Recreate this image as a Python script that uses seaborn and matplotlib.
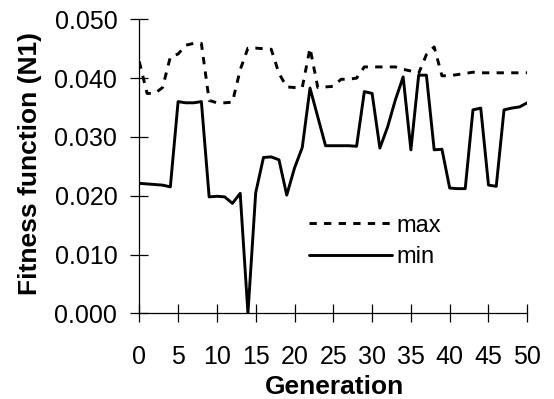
import numpy as np
import pandas as pd
import matplotlib
matplotlib.use("Agg")
import matplotlib.pyplot as plt
import seaborn as sns
from matplotlib.lines import Line2D

generation = list(range(51))
max_vals = [0.0428, 0.0374, 0.0374, 0.0384, 0.0436, 0.0441, 0.0456, 0.0459, 0.0459, 0.0362,
            0.0358, 0.0358, 0.0359, 0.0414, 0.0451, 0.0451, 0.0450, 0.0449, 0.0408, 0.0385,
            0.0384, 0.0384, 0.0451, 0.0384, 0.0385, 0.0386, 0.0398, 0.0398, 0.0400, 0.0419,
            0.0419, 0.0419, 0.0419, 0.0419, 0.0415, 0.0412, 0.0408, 0.0440, 0.0453, 0.0404,
            0.0404, 0.0406, 0.0408, 0.0410, 0.0409, 0.0409, 0.0409, 0.0409, 0.0409, 0.0409,
            0.0409]
min_vals = [0.0221, 0.0220, 0.0219, 0.0218, 0.0215, 0.0360, 0.0358, 0.0358, 0.0360, 0.0198,
            0.0199, 0.0198, 0.0187, 0.0204, 0.0000, 0.0205, 0.0265, 0.0266, 0.0261, 0.0201,
            0.0247, 0.0282, 0.0383, 0.0334, 0.0285, 0.0285, 0.0285, 0.0285, 0.0284, 0.0377,
            0.0374, 0.0281, 0.0317, 0.0363, 0.0402, 0.0278, 0.0405, 0.0405, 0.0278, 0.0279,
            0.0213, 0.0212, 0.0212, 0.0346, 0.0349, 0.0218, 0.0216, 0.0346, 0.0349, 0.0351,
            0.0358]
series_names = ["max", "min"]
x_ticks = list(range(0, 51, 5))
y_ticks = [0.0, 0.01, 0.02, 0.03, 0.04, 0.05]
x_label = "Generation"
y_label = "Fitness function (N1)"

df = pd.DataFrame({
    "Generation": generation * 2,
    "value": max_vals + min_vals,
    "series": [series_names[0]] * len(generation) + [series_names[1]] * len(generation),
})

sns.set_style("white")
plt.rcParams["font.family"] = ["Liberation Sans", "DejaVu Sans"]
plt.rcParams["text.color"] = "black"

W, H = 554, 399
fig = plt.figure(figsize=(W / 100, H / 100), dpi=100)
ax = fig.add_axes([139.3 / W, 1 - 313.3 / H, 388 / W, 294 / H])

sns.lineplot(data=df, x="Generation", y="value", hue="series", style="series",
             palette={"max": "black", "min": "black"},
             dashes={"max": (2.5, 2.5), "min": ""},
             linewidth=2.1, ax=ax, legend=False)

ax.set_xlim(0, 50)
ax.set_ylim(0, 0.05)
ax.set_xticks(x_ticks)
ax.set_yticks(y_ticks)
ax.set_yticklabels([f"{v:.3f}" for v in y_ticks])
ax.set_xticklabels([str(v) for v in x_ticks])
for s in ["top", "right"]:
    ax.spines[s].set_visible(False)
for s in ["left", "bottom"]:
    ax.spines[s].set_color("black")
    ax.spines[s].set_linewidth(0.9)
ax.tick_params(axis="both", which="major", bottom=True, left=True, direction="inout",
               length=12.5, width=0.9, color="black", labelsize=18, labelcolor="black")
ax.tick_params(axis="y", pad=9.6)
ax.tick_params(axis="x", pad=16.5)
ax.set_xlabel("")
ax.set_ylabel("")

fig.text(335 / W, 1 - 387.5 / H, x_label, ha="center", va="center",
         fontsize=19, fontweight="bold", color="black")
fig.text(30 / W, 1 - 163.4 / H, y_label, ha="center", va="center",
         rotation=90, fontsize=19, fontweight="bold", color="black")

handles = [Line2D([], [], color="black", lw=2.1, dashes=(2.5, 2.5)),
           Line2D([], [], color="black", lw=2.1)]
leg = ax.legend(handles, series_names, loc="center left",
                bbox_to_anchor=((309.3 - 139.3) / 388, (313.3 - 241.5) / 294),
                frameon=False, fontsize=17, handlelength=3.5, handletextpad=0.2,
                borderpad=0, borderaxespad=0, labelspacing=0.42)
for t in leg.get_texts():
    t.set_color("black")

fig.savefig("out.png", dpi=100)
